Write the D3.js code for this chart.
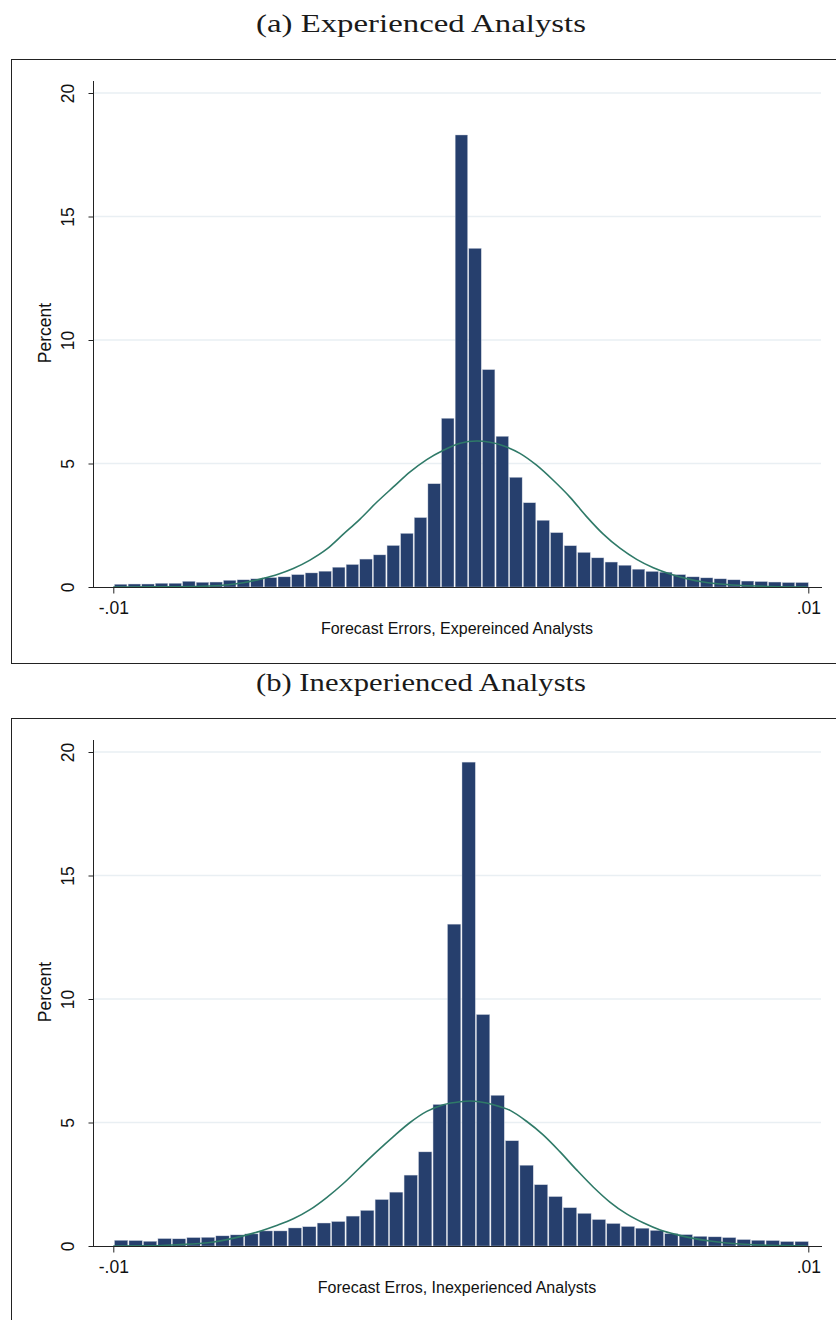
<!DOCTYPE html>
<html>
<head>
<meta charset="utf-8">
<script src="https://cdn.jsdelivr.net/npm/d3@7"></script>
<style>
  html, body { margin: 0; padding: 0; background: #ffffff; }
  svg { display: block; }
</style>
</head>
<body>
<div id="chart"></div>
<script>
// Histogram heights (percent of forecasts per bin), bins span -.01 to .01
const pctExperienced = [0.11,0.12,0.12,0.15,0.15,0.23,0.19,0.20,0.27,0.29,0.33,0.38,0.41,0.50,0.57,0.64,0.80,0.91,1.13,1.30,1.68,2.17,2.81,4.18,6.83,18.3,13.71,8.80,6.10,4.44,3.41,2.70,2.20,1.67,1.40,1.18,1.01,0.88,0.72,0.63,0.60,0.50,0.41,0.37,0.33,0.29,0.24,0.22,0.20,0.18,0.18];
const pctInexperienced = [0.23,0.22,0.19,0.30,0.29,0.34,0.35,0.41,0.45,0.49,0.61,0.61,0.73,0.78,0.93,0.99,1.21,1.44,1.88,2.18,2.87,3.81,5.73,13.03,19.59,9.37,6.10,4.26,3.27,2.48,2.00,1.55,1.32,1.07,0.91,0.79,0.72,0.63,0.50,0.46,0.39,0.37,0.34,0.26,0.23,0.22,0.18,0.18];

// Overlaid normal density, sampled (forecast error, percent)
const normalExpX = [-0.01000,-0.00894,-0.00818,-0.00722,-0.00626,-0.00569,-0.00530,-0.00482,-0.00434,-0.00386,-0.00338,-0.00290,-0.00242,-0.00194,-0.00146,-0.00098,-0.00050,-0.00002,0.00046,0.00122,0.00170,0.00218,0.00266,0.00314,0.00362,0.00410,0.00458,0.00506,0.00554,0.00602,0.00650,0.00698,0.00746,0.00794,0.00890,0.00996];
const normalExpY = [0.00,0.005,0.01,0.04,0.17,0.35,0.50,0.75,1.09,1.53,2.14,2.75,3.43,4.05,4.66,5.16,5.54,5.82,5.91,5.72,5.41,4.93,4.32,3.64,2.85,2.14,1.57,1.12,0.78,0.53,0.34,0.20,0.12,0.07,0.02,0.00];
const normalInexpX = [-0.01000,-0.00885,-0.00818,-0.00722,-0.00626,-0.00578,-0.00530,-0.00482,-0.00434,-0.00386,-0.00338,-0.00290,-0.00242,-0.00194,-0.00146,-0.00098,-0.00050,-0.00002,0.00026,0.00094,0.00142,0.00190,0.00237,0.00285,0.00334,0.00381,0.00429,0.00477,0.00525,0.00574,0.00621,0.00669,0.00717,0.00765,0.00861,0.00957,0.00995];
const normalInexpY = [0.00,0.01,0.05,0.14,0.41,0.60,0.83,1.10,1.47,1.96,2.53,3.18,3.82,4.43,5.00,5.45,5.72,5.84,5.87,5.72,5.49,5.04,4.50,3.82,3.07,2.39,1.78,1.30,0.94,0.65,0.46,0.31,0.20,0.12,0.04,0.01,0.00];

// Axis tick values and labels
const yTicks = [0, 5, 10, 15, 20];
const xTicks = [-0.01, 0.01];
const xTickLabels = ["-.01", ".01"];

const panelTitles = ["(a) Experienced Analysts", "(b) Inexperienced Analysts"];
const xAxisTitles = ["Forecast Errors, Expereinced Analysts", "Forecast Erros, Inexperienced Analysts"];
const yAxisTitle = "Percent";

const W = 836, H = 1320;
const BAR = "#263f6d", CURVE = "#2f7a68", GRID = "#e9eff3", AXIS = "#222";
const SANS = "'Liberation Sans', Arial, sans-serif";
const SERIF = "'Liberation Serif', 'Times New Roman', serif";

const svg = d3.select("#chart").append("svg")
  .attr("width", W).attr("height", H)
  .attr("viewBox", `0 0 ${W} ${H}`);
svg.append("rect").attr("width", W).attr("height", H).attr("fill", "#fff");

const x = d3.scaleLinear().domain([-0.01, 0.01]).range([113.3, 808.3]);
const y = d3.scaleLinear().domain([0, 20]).range([587, 93]);

function drawPanel(dy, boxBottom, title, xTitle, pct, curveX, curveY) {
  // title above the framed graph
  svg.append("text")
    .attr("x", 421).attr("y", dy + 31.5)
    .attr("text-anchor", "middle")
    .attr("font-family", SERIF).attr("font-size", 26)
    .attr("textLength", 330).attr("lengthAdjust", "spacingAndGlyphs")
    .attr("fill", "#1a1a1a")
    .text(title);

  const g = svg.append("g").attr("transform", `translate(0,${dy})`);

  // outer frame of the graph region
  g.append("rect")
    .attr("x", 11.5).attr("y", 59.5)
    .attr("width", 840).attr("height", boxBottom - 59)
    .attr("fill", "none").attr("stroke", AXIS).attr("stroke-width", 1);

  // horizontal grid lines
  g.append("g").selectAll("line")
    .data(yTicks.filter(v => v > 0))
    .join("line")
    .attr("x1", 94).attr("x2", 821)
    .attr("y1", d => y(d)).attr("y2", d => y(d))
    .attr("stroke", GRID).attr("stroke-width", 1.6);

  // histogram bars
  const n = pct.length;
  const w = 0.02 / n;
  g.append("g").selectAll("rect")
    .data(pct)
    .join("rect")
    .attr("x", (d, i) => x(-0.01 + i * w) + 1.2)
    .attr("width", (d, i) => x(-0.01 + (i + 1) * w) - x(-0.01 + i * w) - 1.2)
    .attr("y", d => y(d))
    .attr("height", d => y(0) - y(d))
    .attr("fill", BAR)
    .attr("stroke", "#c9cfdc").attr("stroke-width", 0.4);

  // normal density overlay
  const pts = curveX.map((v, i) => [v, curveY[i]]);
  g.append("path")
    .datum(pts)
    .attr("fill", "none")
    .attr("stroke", CURVE).attr("stroke-width", 1.6)
    .attr("d", d3.line().x(d => x(d[0])).y(d => y(d[1])).curve(d3.curveMonotoneX));

  // y axis
  const yAxis = g.append("g").attr("transform", "translate(93.5,0)")
    .call(d3.axisLeft(y).tickValues(yTicks).tickSize(5).tickFormat(d3.format("d")));
  yAxis.select(".domain").remove();
  yAxis.append("line").attr("x1", 0).attr("x2", 0).attr("y1", 81).attr("y2", 587.5)
    .attr("stroke", AXIS).attr("stroke-width", 1);
  yAxis.selectAll(".tick line").attr("stroke", AXIS);
  yAxis.selectAll(".tick text")
    .attr("transform", "rotate(-90)")
    .attr("x", 0).attr("y", -20).attr("dy", 0)
    .attr("text-anchor", "middle")
    .attr("font-family", SANS).attr("font-size", 17.5).attr("fill", "#111");

  // x axis
  const xAxis = g.append("g").attr("transform", "translate(0,587.5)")
    .call(d3.axisBottom(x).tickValues(xTicks).tickSize(6)
      .tickFormat((d, i) => xTickLabels[i]));
  xAxis.select(".domain").remove();
  xAxis.append("line").attr("x1", 93).attr("x2", 822).attr("y1", 0).attr("y2", 0)
    .attr("stroke", AXIS).attr("stroke-width", 1.2);
  xAxis.selectAll(".tick line").attr("stroke", AXIS);
  xAxis.selectAll(".tick text")
    .attr("y", 26).attr("dy", 0)
    .attr("font-family", SANS).attr("font-size", 17.5).attr("fill", "#111");

  // axis titles
  g.append("text")
    .attr("transform", "translate(51,333) rotate(-90)")
    .attr("text-anchor", "middle")
    .attr("font-family", SANS).attr("font-size", 17.5).attr("fill", "#111")
    .text(yAxisTitle);
  g.append("text")
    .attr("x", 457).attr("y", 634)
    .attr("text-anchor", "middle")
    .attr("font-family", SANS).attr("font-size", 16).attr("fill", "#111")
    .text(xTitle);
}

drawPanel(0, 663, panelTitles[0], xAxisTitles[0], pctExperienced, normalExpX, normalExpY);
drawPanel(659, 700, panelTitles[1], xAxisTitles[1], pctInexperienced, normalInexpX, normalInexpY);
</script>
</body>
</html>
